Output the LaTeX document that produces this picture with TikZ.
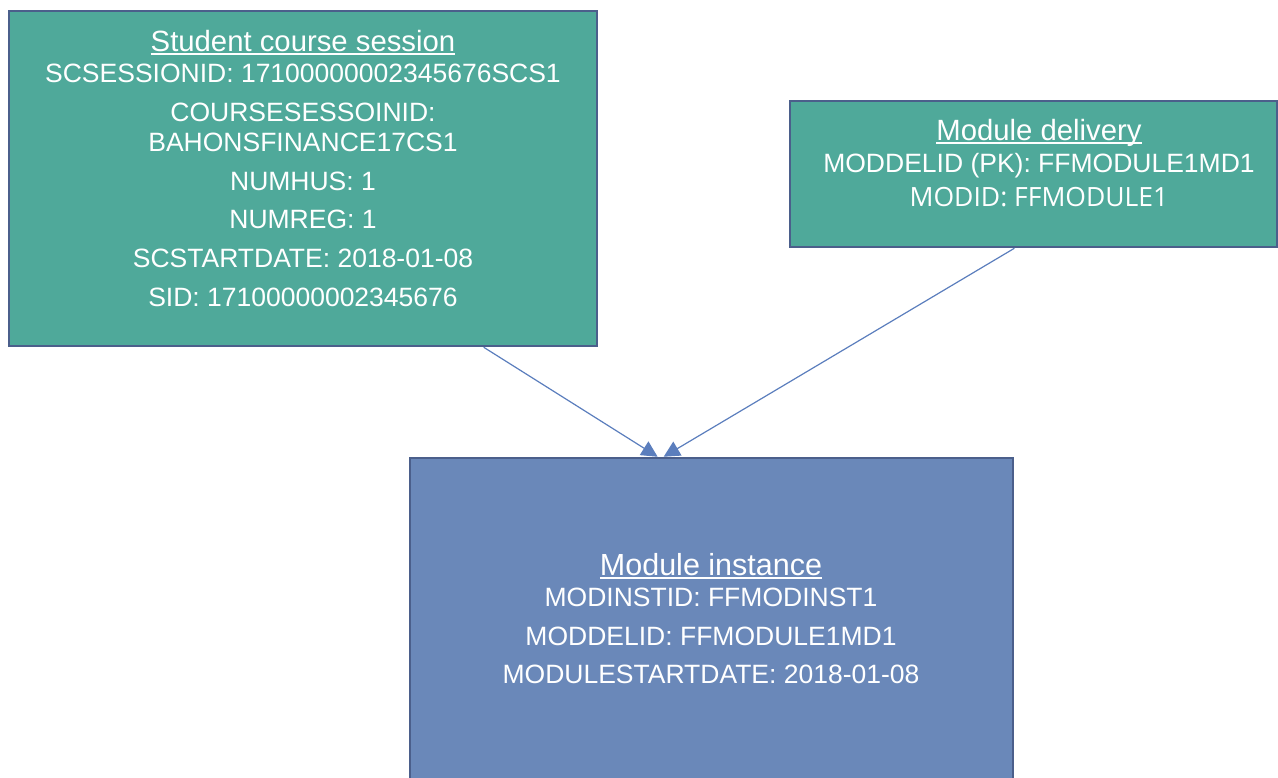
\documentclass[tikz,border=0pt]{standalone}
\usepackage{fontspec}
\setmainfont{Liberation Sans}
\newfontfamily\osans{Open Sans}
\newcommand\myul[1]{\setbox0\hbox{#1}\rlap{\rule[-3.5pt]{\wd0}{1.6pt}}\box0}
\usetikzlibrary{arrows.meta,calc}
\definecolor{teal1}{RGB}{79,169,154}
\definecolor{blue1}{RGB}{106,136,185}
\definecolor{edge1}{RGB}{75,95,139}
\definecolor{arrow1}{RGB}{91,126,189}
\tikzset{
  box/.style={draw=edge1, line width=2.5pt, inner sep=0pt, rectangle},
  val/.style={text=white, inner sep=0pt, anchor=base, font=\fontsize{26.5}{30}\selectfont},
  ttl/.style={val, font=\fontsize{29.3}{33}\selectfont},
  link/.style={draw=arrow1, line width=1.2pt, -{Triangle[width=16pt,length=16pt]}},
}
\begin{document}
\begin{tikzpicture}[x=1pt,y=-1pt]
\useasboundingbox (0,0) rectangle (1278,778);
\clip (0,0) rectangle (1278,778);
% boxes
\node[box, fill=teal1, minimum width=588pt, minimum height=335pt] (sc) at (303,178.5) {};
\node[box, fill=teal1, minimum width=487pt, minimum height=146pt] (md) at (1033.5,174) {};
\node[box, fill=blue1, minimum width=603pt, minimum height=342pt] (mi) at (711.5,629) {};
% student course session
\node[ttl] (sct) at (303,51.5) {\myul{Student course session}};
\node[val] (sc1) at (303,82.5) {SCSESSIONID: 17100000002345676SCS1};
\node[val] (sc2) at (303,121.5) {COURSESESSOINID:};
\node[val] (sc3) at (303,151.5) {BAHONSFINANCE17CS1};
\node[val] (sc4) at (303,190.5) {NUMHUS: 1};
\node[val] (sc5) at (303,228.5) {NUMREG: 1};
\node[val] (sc6) at (303,267.5) {SCSTARTDATE: 2018-01-08};
\node[val] (sc7) at (303,306.5) {SID: 17100000002345676};
% module delivery
\node[ttl] (mdt) at (1039,140.5) {\myul{Module delivery}};
\node[val] (md1) at (1039,172.5) {MODDELID (PK): FFMODULE1MD1};
\node[val, font=\osans\fontsize{26.5}{30}\selectfont] (md2) at (1039,206.5) {MODID: FFMODULE1};
% module instance
\node[ttl, font=\fontsize{30.5}{34}\selectfont] (mit) at (711,575.5) {\myul{Module instance}};
\node[val] (mi1) at (711,606.5) {MODINSTID: FFMODINST1};
\node[val] (mi2) at (711,645.5) {MODDELID: FFMODULE1MD1};
\node[val] (mi3) at (711,683.5) {MODULESTARTDATE: 2018-01-08};
% connectors
\draw[link] ($(sc.south west)!0.806!(sc.south east)$) -- ($(mi.north west)!0.411!(mi.north east)$);
\draw[link] ($(md.south west)!0.461!(md.south east)$) -- ($(mi.north west)!0.421!(mi.north east)$);
\end{tikzpicture}
\end{document}
